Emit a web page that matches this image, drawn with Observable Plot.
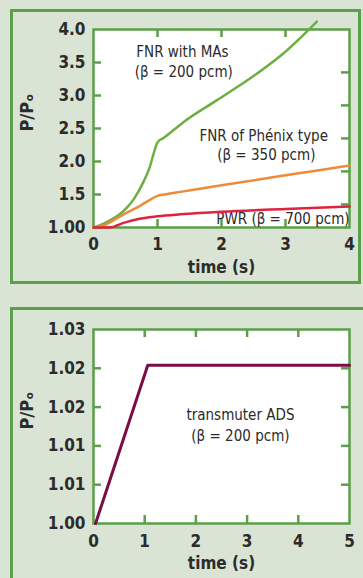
<!DOCTYPE html>
<html>
<head>
<meta charset="utf-8">
<script src="https://cdn.jsdelivr.net/npm/d3@7"></script>
<script src="https://cdn.jsdelivr.net/npm/@observablehq/plot@0.6"></script>
<style>
  html, body { margin: 0; padding: 0; }
  body { width: 363px; height: 578px; background: #dae4d4; position: relative; overflow: hidden; }
  .box { position: absolute; border: 3px solid #5c9f4a; box-sizing: border-box; }
  #top { position: absolute; left: 0; top: 0; }
  #bottom { position: absolute; left: 0; top: 290px; }
</style>
</head>
<body>
<div class="box" style="left:10px;top:9px;width:351px;height:275px;"></div>
<div class="box" style="left:10px;top:307px;width:400px;height:400px;"></div>
<div id="top"></div>
<div id="bottom"></div>
<script>
// ---------- data: top panel ----------
const fnrMAsTime  = [0, 0.16, 0.3, 0.47, 0.63, 0.79, 0.88, 0.94, 1.0, 1.1, 1.41, 1.93, 2.45, 2.97, 3.49];
const fnrMAsPower = [1.0, 1.06, 1.13, 1.25, 1.43, 1.71, 1.92, 2.12, 2.29, 2.36, 2.6, 2.93, 3.26, 3.64, 4.12];

const phenixTime  = [0, 0.15, 0.3, 0.47, 0.73, 0.9, 1.0, 1.1, 1.36, 2.0, 3.0, 4.0];
const phenixPower = [1.0, 1.03, 1.1, 1.2, 1.33, 1.43, 1.48, 1.5, 1.54, 1.64, 1.79, 1.94];

const pwrTime  = [0, 0.25, 0.47, 0.7, 1.0, 1.36, 2.0, 3.0, 4.0];
const pwrPower = [1.0, 1.0, 1.07, 1.13, 1.17, 1.2, 1.24, 1.28, 1.32];

const topXTicks = [0, 1, 2, 3, 4];
const topXInnerTicks = [1, 2, 3];
const topYTicks = [1.0, 1.5, 2.0, 2.5, 3.0, 3.5, 4.0];
const topYTickLabels = ["1.00", "1.5", "2.0", "2.5", "3.0", "3.5", "4.0"];
const topYLeftInnerTicks = [1.5, 2.0, 2.5, 3.0, 3.5];
const topYRightInnerTicks = [1.35, 1.85, 2.35, 2.85, 3.35];

const topLabelText = ["FNR with MAs", "(β = 200 pcm)", "FNR of Phénix type", "(β = 350 pcm)", "PWR (β = 700 pcm)"];
const topLabelTime = [1.39, 1.41, 2.66, 2.70, 2.96];
const topLabelPower = [3.66, 3.35, 2.39, 2.09, 1.13];

// ---------- data: bottom panel ----------
const adsTime  = [0.04, 1.06, 5.0];
const adsPower = [1.0, 1.0204, 1.0204];

const botXTicks = [0, 1, 2, 3, 4, 5];
const botXInnerTicks = [1, 2, 3, 4];
const botYTicks = [1.0, 1.005, 1.01, 1.015, 1.02, 1.025];
const botYTickLabels = ["1.00", "1.01", "1.01", "1.02", "1.02", "1.03"];
const botYInnerTicks = [1.005, 1.01, 1.015, 1.02];

const botLabelText = ["transmuter ADS", "(β = 200 pcm)"];
const botLabelTime = [2.87, 2.87];
const botLabelPower = [1.0139, 1.01125];

// ---------- styles ----------
const GREEN = "#5c9f4a";
const TEXT = "#2b2b2b";
const FONT = "'DejaVu Sans Condensed', 'DejaVu Sans', sans-serif";

const zip = (t, p, series) => t.map((d, i) => ({time: d, power: p[i], series}));

function panel({height, marginTop, marginBottom, xDomain, yDomain, xTicks, xInner, yTicks, yLabels, yLeftInner, yRightInner, lines, labels, xPad}) {
  const marginLeft = 93, marginRight = 14;
  const plotW = 363 - marginLeft - marginRight;
  const plotH = height - marginTop - marginBottom;
  const tickLen = 8;
  const tickStyle = {stroke: GREEN, strokeWidth: 2.5};
  const yFmt = d => yLabels[yTicks.indexOf(d)];
  return Plot.plot({
    width: 363, height, marginLeft, marginRight, marginTop, marginBottom,
    style: {background: "transparent", fontFamily: FONT, color: TEXT, overflow: "visible"},
    x: {domain: xDomain},
    y: {domain: yDomain},
    marks: [
      Plot.frame({fill: "white"}),
      Plot.frame({stroke: GREEN, strokeWidth: 2.5}),
      Plot.tickX(xInner, {x: d => d, insetTop: plotH - tickLen, ...tickStyle}),
      Plot.tickX(xInner, {x: d => d, insetBottom: plotH - tickLen, ...tickStyle}),
      Plot.tickY(yLeftInner, {y: d => d, insetRight: plotW - tickLen, ...tickStyle}),
      Plot.tickY(yRightInner, {y: d => d, insetLeft: plotW - tickLen, ...tickStyle}),
      Plot.text(labels, {x: "time", y: "power", text: "text", fill: TEXT, fontSize: 15, fontFamily: FONT}),
      ...lines.map(l => Plot.line(l.data, {x: "time", y: "power", stroke: l.color, strokeWidth: l.width, curve: l.curve})),
      Plot.axisX({ticks: xTicks, tickSize: 0, tickPadding: xPad, tickFormat: d => String(d), label: null,
        fontSize: 17, fontWeight: "bold", fill: TEXT}),
      Plot.axisY({ticks: yTicks, tickSize: 0, tickPadding: 8, tickFormat: yFmt, label: null,
        fontSize: 17, fontWeight: "bold", fill: TEXT}),
      Plot.text(["time (s)"], {frameAnchor: "bottom", lineAnchor: "middle", dy: 40, fontSize: 17, fontWeight: "bold", fill: TEXT}),
      Plot.text(["P/Pₒ"], {frameAnchor: "left", lineAnchor: "middle", dx: -66, dy: 3, rotate: -90, fontSize: 18, fontWeight: "bold", fill: TEXT})
    ]
  });
}

const topLabels = topLabelText.map((t, i) => ({text: t, time: topLabelTime[i], power: topLabelPower[i]}));
const botLabels = botLabelText.map((t, i) => ({text: t, time: botLabelTime[i], power: botLabelPower[i]}));

document.getElementById("top").append(panel({
  height: 290, marginTop: 29, marginBottom: 63, xPad: 10,
  xDomain: [0, 4], yDomain: [1, 4],
  xTicks: topXTicks, xInner: topXInnerTicks,
  yTicks: topYTicks, yLabels: topYTickLabels,
  yLeftInner: topYLeftInnerTicks, yRightInner: topYRightInnerTicks,
  labels: topLabels,
  lines: [
    {data: zip(fnrMAsTime, fnrMAsPower, "FNR with MAs"), color: "#6eae42", width: 2.5, curve: "monotone-x"},
    {data: zip(phenixTime, phenixPower, "FNR of Phénix type"), color: "#ec8b3c", width: 2.5, curve: "monotone-x"},
    {data: zip(pwrTime, pwrPower, "PWR"), color: "#e0213f", width: 2.5, curve: "monotone-x"}
  ]
}));

document.getElementById("bottom").append(panel({
  height: 288, marginTop: 39, marginBottom: 55, xPad: 11,
  xDomain: [0, 5], yDomain: [1, 1.025],
  xTicks: botXTicks, xInner: botXInnerTicks,
  yTicks: botYTicks, yLabels: botYTickLabels,
  yLeftInner: botYInnerTicks, yRightInner: botYInnerTicks,
  labels: botLabels,
  lines: [
    {data: zip(adsTime, adsPower, "transmuter ADS"), color: "#7a0d46", width: 3, curve: "linear"}
  ]
}));
</script>
</body>
</html>
